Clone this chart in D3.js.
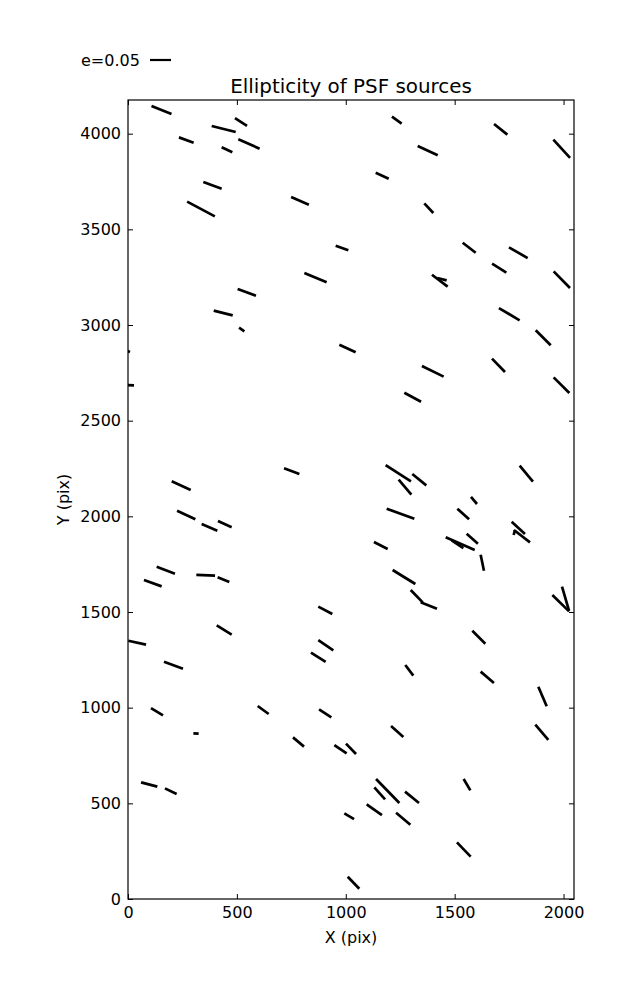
<!DOCTYPE html>
<html><head><meta charset="utf-8">
<script src="https://cdn.jsdelivr.net/npm/d3@7"></script>
<style>body{margin:0;background:#fff;} svg{display:block;} text{font-family:"DejaVu Sans",sans-serif;}</style>
</head><body><svg id="c" width="637" height="1000"></svg>
<script>
// Source positions (pix), ellipticity and position angle (deg, counter-clockwise from +X)
const xs = [153.8,518.9,439.5,267.7,555.6,454.6,388,335.2,789.8,982.7,861,545.5,1234.3,1711.4,1991.5,1376.2,1167.3,1381.3,1566.8,1792.3,1704.6,1992.1,1431.8,1441.9,437.2,522.1,1008,-27.6,-9.2,751.7,244.3,1750.9,1906.6,1701.3,1399.6,1990.6,1307.3,1241.2,1272,1337.6,1829,1588.8,267.3,374.2,444.5,173.6,113.9,356.8,438.5,906,441.7,42.2,908.3,873.9,208.9,1251.3,1539.2,1792.3,1809.2,1773.9,1160.9,1525.5,1513.1,1581,1626.9,1267.4,1325.7,1381.3,1987,2009,1610.9,1291.7,1649.9,1903.4,133.2,620.8,905.5,312.3,782.9,975.8,1024,97.4,196.5,1015.7,1035.5,1236.2,1900.2,1192.5,1155.8,1304.1,1131,1263.7,1556.7,1542];
const ys = [4123.7,4061,4024.4,3966.9,3946,3915.7,3730.2,3606.3,3649.2,3402.5,3247.2,3170.9,4070.4,4022.8,3921,3911,3780.3,3610.5,3404,3377.9,3296.9,3236.8,3231.6,3239.4,3062.7,2976.5,2877.2,2874.6,2686.4,2235.9,2160.1,3056.5,2933.1,2789.4,2758,2685.4,2622.7,2225.4,2152.3,2191.5,2222.8,2082.8,2007,1942.7,1958.9,1718.5,1650.5,1691.8,1668.8,1508.9,1405.9,1339.6,1326.5,1263.3,1222,2013.8,2012.2,1940.1,1896.2,1915.5,1847.6,1857,1854.4,1883.1,1757.7,1683,1582.6,1534,1546,1569.5,1368.3,1195.3,1158.7,1058.4,978.9,987.8,970.6,865,820.6,782.9,785,598.4,563.4,432.8,85.2,875.4,871.3,564.5,552.4,531.5,466.7,419.7,597.4,258.7];
const es = [0.0513,0.034,0.0589,0.0372,0.0553,0.0281,0.0464,0.0747,0.046,0.0322,0.0575,0.0464,0.0285,0.0406,0.059,0.0525,0.0341,0.0315,0.039,0.0513,0.0402,0.0556,0.047,0.0228,0.0466,0.0154,0.0428,0.0407,0.0381,0.0389,0.0498,0.0573,0.0505,0.0443,0.0576,0.0529,0.0452,0.0717,0.0468,0.0428,0.0495,0.022,0.0482,0.0406,0.0359,0.0466,0.0447,0.0446,0.03,0.0376,0.042,0.0432,0.0433,0.0414,0.0482,0.0701,0.0378,0.0431,0.048,0.0123,0.0366,0.0754,0.0334,0.0359,0.0389,0.0635,0.0409,0.0416,0.0556,0.0595,0.0438,0.0318,0.0416,0.0508,0.0334,0.0324,0.0349,0.0126,0.0343,0.0353,0.0342,0.0401,0.031,0.0268,0.0397,0.0393,0.0478,0.0796,0.0383,0.0428,0.0444,0.0444,0.0313,0.0471];
const angles = [-21.8,-32.7,-14,-19.8,-23.6,-25,-20.1,-27.9,-23.5,-20.3,-22.6,-20.1,-35.8,-38.8,-47.6,-24.9,-24.8,-47.1,-37.6,-29.8,-32.2,-45.7,-37.4,-13.9,-13.9,-34.9,-25,-20.6,-2,-20.4,-24.6,-30.7,-45,-45.7,-26.2,-45,-28.3,-32.8,-49.7,-38.9,-50.3,-49.4,-25.4,-23.1,-24.7,-20.9,-19.6,-2.1,-21.9,-27.5,-31.8,-12.7,-34.5,-32.3,-20.2,-19.9,-42.4,-42.8,-37.6,75.4,-27,-23.6,-33.3,-41.5,-78.3,-31.7,-45.7,-21.1,-44.3,-73.7,-45,-53.2,-40.4,-66.8,-31.3,-36,-33,-3.2,-40.2,-34,-45.8,-14.8,-26,-30.4,-46,-41.8,-49.6,-45.8,-48.3,-38.9,-35,-40,-59.3,-46.2];
const xTicks = [0,500,1000,1500,2000];
const yTicks = [0,500,1000,1500,2000,2500,3000,3500,4000];
const refE = 0.05;

const svg = d3.select("#c");
const m = {l:128, t:100, w:446, h:799};
const x = d3.scaleLinear().domain([0,2048]).range([m.l, m.l+m.w]);
const y = d3.scaleLinear().domain([0,4176]).range([m.t+m.h, m.t]);
const len = d3.scaleLinear().domain([0,refE]).range([0,21]);

svg.append("clipPath").attr("id","clip").append("rect")
  .attr("x",m.l).attr("y",m.t).attr("width",m.w).attr("height",m.h);

const data = xs.map((v,i)=>({x:v,y:ys[i],e:es[i],a:angles[i]}));
svg.append("g").attr("clip-path","url(#clip)").selectAll("line").data(data).join("line")
  .attr("x1",d=>x(d.x)-len(d.e)/2*Math.cos(d.a*Math.PI/180))
  .attr("x2",d=>x(d.x)+len(d.e)/2*Math.cos(d.a*Math.PI/180))
  .attr("y1",d=>y(d.y)+len(d.e)/2*Math.sin(d.a*Math.PI/180))
  .attr("y2",d=>y(d.y)-len(d.e)/2*Math.sin(d.a*Math.PI/180))
  .attr("stroke","#000").attr("stroke-width",2.7);

// axes (ticks inside, on all sides)
const fs = "16px";
const gBottom = svg.append("g").attr("transform",`translate(0,${m.t+m.h})`)
  .call(d3.axisBottom(x).tickValues(xTicks).tickSize(-5).tickPadding(8).tickFormat(d3.format("d")));
const gTop = svg.append("g").attr("transform",`translate(0,${m.t})`)
  .call(d3.axisTop(x).tickValues(xTicks).tickSize(-5).tickFormat(""));
const gLeft = svg.append("g").attr("transform",`translate(${m.l},0)`)
  .call(d3.axisLeft(y).tickValues(yTicks).tickSize(-5).tickPadding(7).tickFormat(d3.format("d")));
const gRight = svg.append("g").attr("transform",`translate(${m.l+m.w},0)`)
  .call(d3.axisRight(y).tickValues(yTicks).tickSize(-5).tickFormat(""));
[gBottom,gTop,gLeft,gRight].forEach(g=>{
  g.select(".domain").remove();
  g.selectAll("line").attr("stroke","#000");
  g.selectAll("text").attr("fill","#000").style("font-size",fs).style("font-family","DejaVu Sans");
});
svg.append("rect").attr("x",m.l).attr("y",m.t).attr("width",m.w).attr("height",m.h)
  .attr("fill","none").attr("stroke","#000").attr("stroke-width",1.2);

svg.append("text").attr("x",m.l+m.w/2).attr("y",943).attr("text-anchor","middle")
  .style("font-size",fs).text("X (pix)");
svg.append("text").attr("transform",`translate(69,${m.t+m.h/2}) rotate(-90)`).attr("text-anchor","middle")
  .style("font-size",fs).text("Y (pix)");
svg.append("text").attr("x",351).attr("y",93).attr("text-anchor","middle")
  .style("font-size","19.9px").text("Ellipticity of PSF sources");

// key
svg.append("text").attr("x",81).attr("y",66).style("font-size",fs).text("e=" + refE.toFixed(2));
svg.append("line").attr("x1",150).attr("x2",150+len(refE)).attr("y1",60).attr("y2",60)
  .attr("stroke","#000").attr("stroke-width",2.2);
</script></body></html>
